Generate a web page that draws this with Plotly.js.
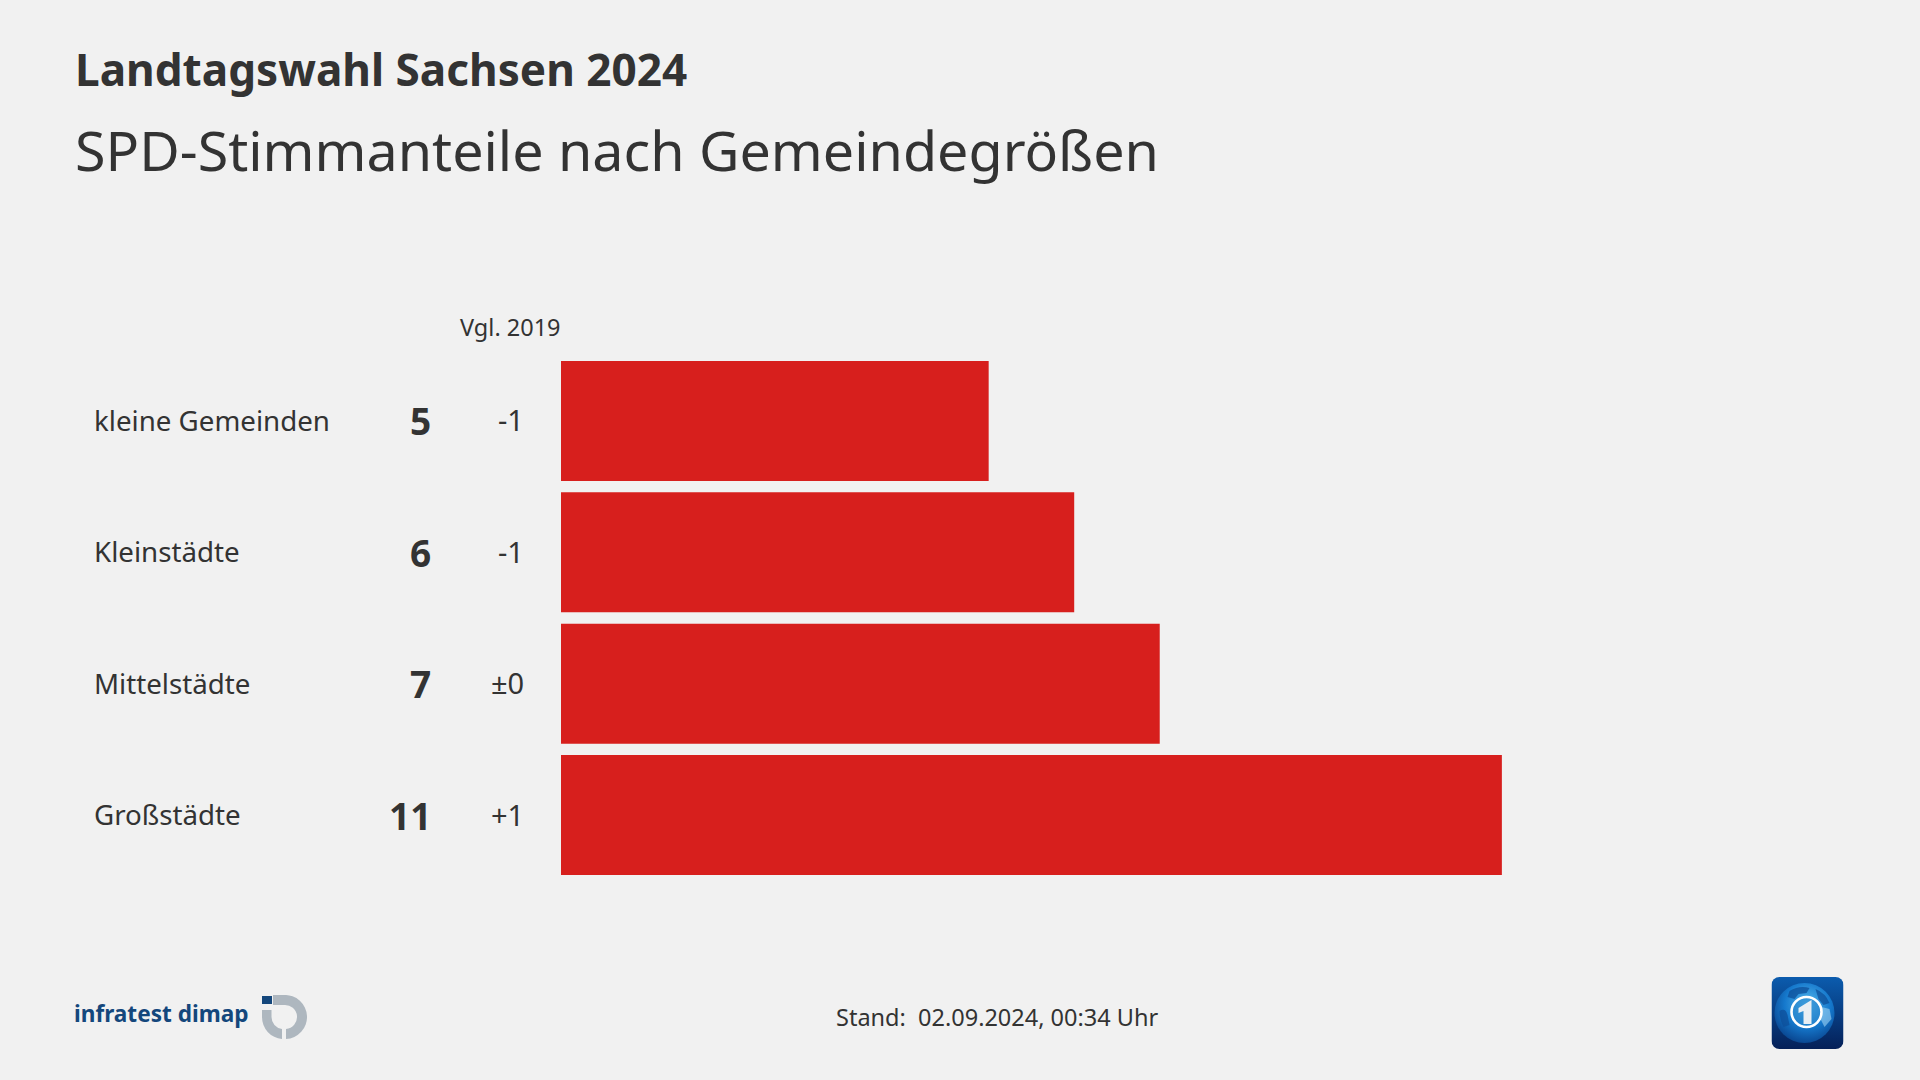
<!DOCTYPE html>
<html><head><meta charset="utf-8">
<script src="https://cdn.plot.ly/plotly-3.0.1.min.js"></script>
<style>html,body{margin:0;padding:0;background:#f1f1f1}#c{width:1920px;height:1080px}</style>
</head><body><div id="c"></div>
<script>
const categories = ["kleine Gemeinden","Kleinstädte","Mittelstädte","Großstädte"];
const shares = [5,6,7,11];
const changes = ["-1","-1","±0","+1"];
const titleMain = "Landtagswahl Sachsen 2024";
const titleSub = "SPD-Stimmanteile nach Gemeindegrößen";
const compareLabel = "Vgl. 2019";
const standLabel = "Stand:  02.09.2024, 00:34 Uhr";
const brandLabel = "infratest dimap";

const W=1920,H=1080,FONT='"Noto Sans", "Open Sans", sans-serif',INK='#333333';
const px=x=>x/W, py=y=>1-y/H;
function note(text,x,y,size,anchor,extra){
  return Object.assign({text,xref:'paper',yref:'paper',x:px(x),y:py(y),xanchor:anchor,yanchor:'middle',
    showarrow:false,borderpad:0,font:{family:FONT,size,color:INK}},extra||{});
}
const anns=[
  note('<b>'+titleMain+'</b>',74,69,44.1,'left'),
  note(titleSub,74,150,55.6,'left'),
  note(compareLabel,510,327,23.5,'center'),
  note(standLabel,997,1017,23.5,'center'),
  note('<b>'+brandLabel+'</b>',73,1013,22.6,'left',{font:{family:FONT,size:22.6,color:'#14477c'}})
];
categories.forEach((c,i)=>{
  anns.push({text:c,xref:'paper',yref:'y',x:px(92),y:c,xanchor:'left',yanchor:'middle',yshift:1,showarrow:false,font:{family:FONT,size:27.7,color:INK}});
  anns.push({text:'<b>'+shares[i]+'</b>',xref:'paper',yref:'y',x:px(432.5),y:c,xanchor:'right',yanchor:'middle',showarrow:false,font:{family:FONT,size:37,color:INK}});
  anns.push({text:changes[i],xref:'paper',yref:'y',x:px(525.5),y:c,xanchor:'right',yanchor:'middle',yshift:1,showarrow:false,font:{family:FONT,size:29,color:INK}});
});
const dimapSvg=`<svg xmlns="http://www.w3.org/2000/svg" width="46" height="46" viewBox="0 0 46 46"><rect x="1" y="1" width="10" height="8" fill="#14477c"/><path d="M12 0 H23 A22 22 0 0 1 25 44 V34 A12 12 0 0 0 23 10 H12 Z" fill="#aeb7bf"/><path d="M1 15 H10.5 V22 A12 12 0 0 0 21 34 V44 A22 22 0 0 1 1 22 Z" fill="#aeb7bf"/></svg>`;
const tsSvg=`<svg xmlns="http://www.w3.org/2000/svg" width="72" height="72" viewBox="0 0 72 72"><defs><linearGradient id="g" x1="0" y1="0" x2="0" y2="1"><stop offset="0" stop-color="#0b5cae"/><stop offset="1" stop-color="#052058"/></linearGradient><radialGradient id="r" cx="0.55" cy="0.35" r="0.7"><stop offset="0" stop-color="#55b8ee"/><stop offset="0.55" stop-color="#1578cc"/><stop offset="1" stop-color="#083f88"/></radialGradient></defs><rect width="72" height="72" rx="8" fill="url(#g)"/><circle cx="33" cy="36" r="30" fill="url(#r)"/><path d="M18 14 q10 -6 20 -3 l-3 5 l-8 1 l-4 5 l-7 -2 z M44 12 q10 4 14 14 l-6 2 l-5 -6 z M8 34 q6 -4 8 4 l2 10 l-6 2 q-4 -8 -4 -16 z" fill="#0d4f9a" opacity="0.75"/><path d="M50 30 l8 2 l2 10 l-7 8 l-4 -8 z" fill="#9fd4f4" opacity="0.6"/><circle cx="35" cy="35" r="15" fill="#2c86cc" fill-opacity="0.55" stroke="#ffffff" stroke-width="2.6"/><path d="M27 31 l13 -8 v24 h-8 v-13 l-5 2 z" fill="#e9eef3"/></svg>`;
const uri=s=>'data:image/svg+xml;charset=utf-8,'+encodeURIComponent(s);
Plotly.newPlot('c',[{
  type:'bar',orientation:'h',y:categories,x:shares,
  marker:{color:'#d71f1d',line:{width:0}},hoverinfo:'skip',cliponaxis:false
}],{
  width:W,height:H,margin:{l:0,r:0,t:0,b:0,pad:0},
  paper_bgcolor:'#f1f1f1',plot_bgcolor:'#f1f1f1',showlegend:false,bargap:0.0863,
  xaxis:{domain:[px(561),px(1844)],range:[0,15],visible:false,fixedrange:true},
  yaxis:{domain:[py(880.7),py(355.3)],type:'category',categoryorder:'array',categoryarray:categories,autorange:'reversed',visible:false,fixedrange:true},
  annotations:anns,
  images:[
    {source:uri(dimapSvg),xref:'paper',yref:'paper',x:px(261),y:py(995),sizex:46/W,sizey:46/H,xanchor:'left',yanchor:'top',sizing:'stretch',layer:'above'},
    {source:uri(tsSvg),xref:'paper',yref:'paper',x:px(1771.5),y:py(977),sizex:72/W,sizey:72/H,xanchor:'left',yanchor:'top',sizing:'stretch',layer:'above'}
  ]
},{displayModeBar:false,staticPlot:true});
</script></body></html>
